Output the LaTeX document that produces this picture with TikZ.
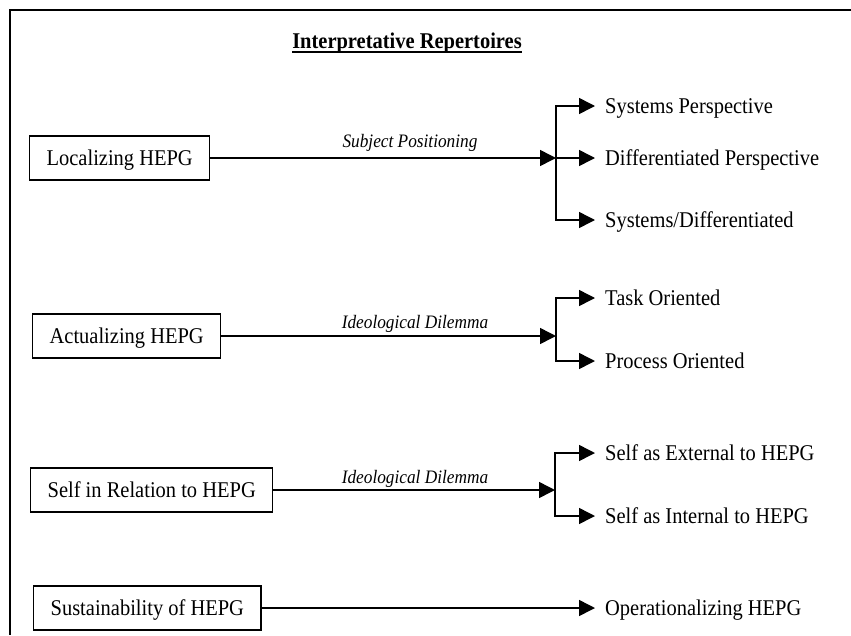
\documentclass[tikz,border=0pt]{standalone}
\usepackage{fontspec}
\setmainfont{Liberation Serif}[FakeStretch=0.91]
\usetikzlibrary{arrows.meta, positioning}

\begin{document}
\begin{tikzpicture}[x=1pt, y=-1pt,
  repertoire/.style={rectangle, draw=black, line width=1.3pt, minimum height=44pt, inner xsep=17pt, text height=15pt, text depth=0pt, text centered, anchor=west, font=\fontsize{22.5}{26}\selectfont},
  outcome/.style={anchor=west, inner xsep=10pt, text height=15pt, text depth=0pt, font=\fontsize{22.5}{26}\selectfont},
  move/.style={anchor=base, inner sep=0pt, font=\itshape\fontsize{19}{22}\selectfont},
  heading/.style={anchor=base, inner sep=0pt, font=\bfseries\fontsize{22.5}{26}\selectfont},
  arrow/.style={line width=1.5pt, -{Triangle[length=16pt, width=16pt]}}]

  \useasboundingbox (0,0) rectangle (851,635);
  \draw [line width=2pt] (851,10) -- (10,10) -- (10,635);

  % Nodes
  \node (title) [heading] at (407,48) {Interpretative Repertoires};

  \node (localizing) [repertoire] at (29,158) {Localizing HEPG};
  \coordinate (split1) at (556,158);
  \node (subjPos) [move] at (410,147) {Subject Positioning};
  \node (sysPersp) [outcome] at (595,106) {Systems Perspective};
  \node (diffPersp) [outcome] at (595,158) {Differentiated Perspective};
  \node (sysDiff) [outcome] at (595,220) {Systems/Differentiated};

  \node (actualizing) [repertoire] at (32,336) {Actualizing HEPG};
  \coordinate (split2) at (556,336);
  \node (ideoDil1) [move] at (415,328) {Ideological Dilemma};
  \node (taskOr) [outcome] at (595,298) {Task Oriented};
  \node (processOr) [outcome] at (595,361) {Process Oriented};

  \node (selfRel) [repertoire] at (30,490) {Self in Relation to HEPG};
  \coordinate (split3) at (555,490);
  \node (ideoDil2) [move] at (415,483) {Ideological Dilemma};
  \node (selfExt) [outcome] at (595,453) {Self as External to HEPG};
  \node (selfInt) [outcome] at (595,516) {Self as Internal to HEPG};

  \node (sustain) [repertoire] at (33,608) {Sustainability of HEPG};
  \node (operational) [outcome] at (595,608) {Operationalizing HEPG};

  % Arrows
  \draw [line width=1.3pt] ([yshift=-4pt]title.base west) -- ([yshift=-4pt]title.base east);

  \draw [arrow] (localizing) -- (split1);
  \draw [arrow] (split1) |- (sysPersp);
  \draw [arrow] (split1) -- (diffPersp);
  \draw [arrow] (split1) |- (sysDiff);

  \draw [arrow] (actualizing) -- (split2);
  \draw [arrow] (split2) |- (taskOr);
  \draw [arrow] (split2) |- (processOr);

  \draw [arrow] (selfRel) -- (split3);
  \draw [arrow] (split3) |- (selfExt);
  \draw [arrow] (split3) |- (selfInt);

  \draw [arrow] (sustain) -- (operational);
\end{tikzpicture}
\end{document}
